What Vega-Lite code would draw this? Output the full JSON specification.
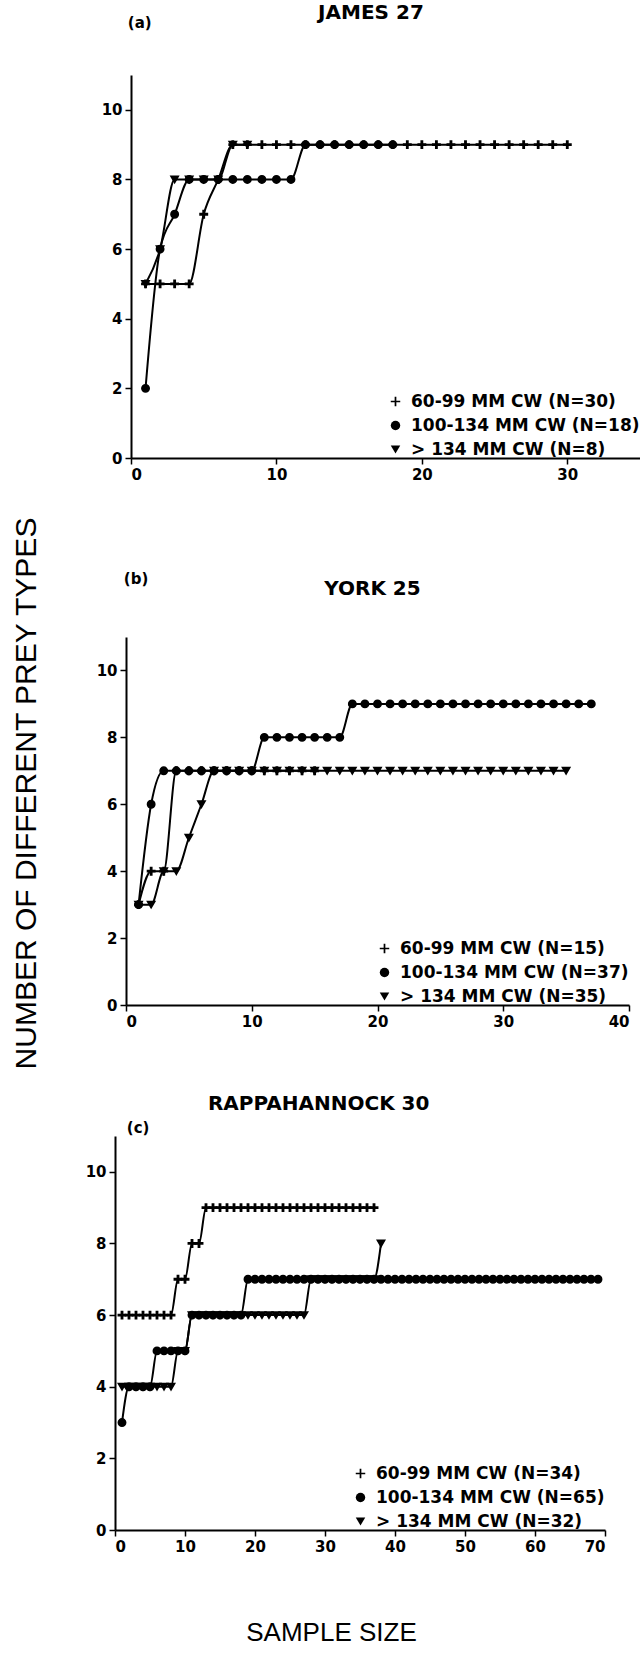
{
  "$schema": "https://vega.github.io/schema/vega-lite/v6.json",
  "background": "white",
  "padding": {"left": 10, "top": 2, "right": 0, "bottom": 0},
  "bounds": "flush",
  "spacing": 179,
  "config": {
    "view": {"stroke": null},
    "font": "DejaVu Sans",
    "axis": {
      "domainColor": "black", "domainWidth": 2,
      "tickColor": "black", "tickWidth": 1.5, "tickSize": 6,
      "labelFont": "DejaVu Sans", "labelFontWeight": "bold", "labelFontSize": 15,
      "labelColor": "black", "labelPadding": 3, "grid": false
    },
    "legend": {
      "orient": "bottom-right", "offset": 0, "padding": 0,
      "labelFont": "DejaVu Sans", "labelFontWeight": "bold", "labelFontSize": 17,
      "labelColor": "black", "labelLimit": 400, "labelOffset": 7,
      "rowPadding": 6, "symbolSize": 90, "symbolStrokeWidth": 1.5,
      "symbolStrokeColor": "black", "symbolFillColor": "black"
    },
    "text": {"font": "DejaVu Sans", "fontWeight": "bold", "color": "black", "align": "center", "baseline": "middle"}
  },
  "resolve": {
    "scale": {"x": "independent", "y": "independent", "shape": "independent"},
    "legend": {"shape": "independent"}
  },
  "datasets": {
    "james": [
      {"group": "60-99 MM CW (N=30)", "n": 1, "types": 5},
      {"group": "60-99 MM CW (N=30)", "n": 2, "types": 5},
      {"group": "60-99 MM CW (N=30)", "n": 3, "types": 5},
      {"group": "60-99 MM CW (N=30)", "n": 4, "types": 5},
      {"group": "60-99 MM CW (N=30)", "n": 5, "types": 7},
      {"group": "60-99 MM CW (N=30)", "n": 6, "types": 8},
      {"group": "60-99 MM CW (N=30)", "n": 7, "types": 9},
      {"group": "60-99 MM CW (N=30)", "n": 8, "types": 9},
      {"group": "60-99 MM CW (N=30)", "n": 9, "types": 9},
      {"group": "60-99 MM CW (N=30)", "n": 10, "types": 9},
      {"group": "60-99 MM CW (N=30)", "n": 11, "types": 9},
      {"group": "60-99 MM CW (N=30)", "n": 12, "types": 9},
      {"group": "60-99 MM CW (N=30)", "n": 13, "types": 9},
      {"group": "60-99 MM CW (N=30)", "n": 14, "types": 9},
      {"group": "60-99 MM CW (N=30)", "n": 15, "types": 9},
      {"group": "60-99 MM CW (N=30)", "n": 16, "types": 9},
      {"group": "60-99 MM CW (N=30)", "n": 17, "types": 9},
      {"group": "60-99 MM CW (N=30)", "n": 18, "types": 9},
      {"group": "60-99 MM CW (N=30)", "n": 19, "types": 9},
      {"group": "60-99 MM CW (N=30)", "n": 20, "types": 9},
      {"group": "60-99 MM CW (N=30)", "n": 21, "types": 9},
      {"group": "60-99 MM CW (N=30)", "n": 22, "types": 9},
      {"group": "60-99 MM CW (N=30)", "n": 23, "types": 9},
      {"group": "60-99 MM CW (N=30)", "n": 24, "types": 9},
      {"group": "60-99 MM CW (N=30)", "n": 25, "types": 9},
      {"group": "60-99 MM CW (N=30)", "n": 26, "types": 9},
      {"group": "60-99 MM CW (N=30)", "n": 27, "types": 9},
      {"group": "60-99 MM CW (N=30)", "n": 28, "types": 9},
      {"group": "60-99 MM CW (N=30)", "n": 29, "types": 9},
      {"group": "60-99 MM CW (N=30)", "n": 30, "types": 9},
      {"group": "100-134 MM CW (N=18)", "n": 1, "types": 2},
      {"group": "100-134 MM CW (N=18)", "n": 2, "types": 6},
      {"group": "100-134 MM CW (N=18)", "n": 3, "types": 7},
      {"group": "100-134 MM CW (N=18)", "n": 4, "types": 8},
      {"group": "100-134 MM CW (N=18)", "n": 5, "types": 8},
      {"group": "100-134 MM CW (N=18)", "n": 6, "types": 8},
      {"group": "100-134 MM CW (N=18)", "n": 7, "types": 8},
      {"group": "100-134 MM CW (N=18)", "n": 8, "types": 8},
      {"group": "100-134 MM CW (N=18)", "n": 9, "types": 8},
      {"group": "100-134 MM CW (N=18)", "n": 10, "types": 8},
      {"group": "100-134 MM CW (N=18)", "n": 11, "types": 8},
      {"group": "100-134 MM CW (N=18)", "n": 12, "types": 9},
      {"group": "100-134 MM CW (N=18)", "n": 13, "types": 9},
      {"group": "100-134 MM CW (N=18)", "n": 14, "types": 9},
      {"group": "100-134 MM CW (N=18)", "n": 15, "types": 9},
      {"group": "100-134 MM CW (N=18)", "n": 16, "types": 9},
      {"group": "100-134 MM CW (N=18)", "n": 17, "types": 9},
      {"group": "100-134 MM CW (N=18)", "n": 18, "types": 9},
      {"group": "> 134 MM CW (N=8)", "n": 1, "types": 5},
      {"group": "> 134 MM CW (N=8)", "n": 2, "types": 6},
      {"group": "> 134 MM CW (N=8)", "n": 3, "types": 8},
      {"group": "> 134 MM CW (N=8)", "n": 4, "types": 8},
      {"group": "> 134 MM CW (N=8)", "n": 5, "types": 8},
      {"group": "> 134 MM CW (N=8)", "n": 6, "types": 8},
      {"group": "> 134 MM CW (N=8)", "n": 7, "types": 9},
      {"group": "> 134 MM CW (N=8)", "n": 8, "types": 9}
    ],
    "york": [
      {"group": "60-99 MM CW (N=15)", "n": 1, "types": 3},
      {"group": "60-99 MM CW (N=15)", "n": 2, "types": 4},
      {"group": "60-99 MM CW (N=15)", "n": 3, "types": 4},
      {"group": "60-99 MM CW (N=15)", "n": 4, "types": 7},
      {"group": "60-99 MM CW (N=15)", "n": 5, "types": 7},
      {"group": "60-99 MM CW (N=15)", "n": 6, "types": 7},
      {"group": "60-99 MM CW (N=15)", "n": 7, "types": 7},
      {"group": "60-99 MM CW (N=15)", "n": 8, "types": 7},
      {"group": "60-99 MM CW (N=15)", "n": 9, "types": 7},
      {"group": "60-99 MM CW (N=15)", "n": 10, "types": 7},
      {"group": "60-99 MM CW (N=15)", "n": 11, "types": 7},
      {"group": "60-99 MM CW (N=15)", "n": 12, "types": 7},
      {"group": "60-99 MM CW (N=15)", "n": 13, "types": 7},
      {"group": "60-99 MM CW (N=15)", "n": 14, "types": 7},
      {"group": "60-99 MM CW (N=15)", "n": 15, "types": 7},
      {"group": "100-134 MM CW (N=37)", "n": 1, "types": 3},
      {"group": "100-134 MM CW (N=37)", "n": 2, "types": 6},
      {"group": "100-134 MM CW (N=37)", "n": 3, "types": 7},
      {"group": "100-134 MM CW (N=37)", "n": 4, "types": 7},
      {"group": "100-134 MM CW (N=37)", "n": 5, "types": 7},
      {"group": "100-134 MM CW (N=37)", "n": 6, "types": 7},
      {"group": "100-134 MM CW (N=37)", "n": 7, "types": 7},
      {"group": "100-134 MM CW (N=37)", "n": 8, "types": 7},
      {"group": "100-134 MM CW (N=37)", "n": 9, "types": 7},
      {"group": "100-134 MM CW (N=37)", "n": 10, "types": 7},
      {"group": "100-134 MM CW (N=37)", "n": 11, "types": 8},
      {"group": "100-134 MM CW (N=37)", "n": 12, "types": 8},
      {"group": "100-134 MM CW (N=37)", "n": 13, "types": 8},
      {"group": "100-134 MM CW (N=37)", "n": 14, "types": 8},
      {"group": "100-134 MM CW (N=37)", "n": 15, "types": 8},
      {"group": "100-134 MM CW (N=37)", "n": 16, "types": 8},
      {"group": "100-134 MM CW (N=37)", "n": 17, "types": 8},
      {"group": "100-134 MM CW (N=37)", "n": 18, "types": 9},
      {"group": "100-134 MM CW (N=37)", "n": 19, "types": 9},
      {"group": "100-134 MM CW (N=37)", "n": 20, "types": 9},
      {"group": "100-134 MM CW (N=37)", "n": 21, "types": 9},
      {"group": "100-134 MM CW (N=37)", "n": 22, "types": 9},
      {"group": "100-134 MM CW (N=37)", "n": 23, "types": 9},
      {"group": "100-134 MM CW (N=37)", "n": 24, "types": 9},
      {"group": "100-134 MM CW (N=37)", "n": 25, "types": 9},
      {"group": "100-134 MM CW (N=37)", "n": 26, "types": 9},
      {"group": "100-134 MM CW (N=37)", "n": 27, "types": 9},
      {"group": "100-134 MM CW (N=37)", "n": 28, "types": 9},
      {"group": "100-134 MM CW (N=37)", "n": 29, "types": 9},
      {"group": "100-134 MM CW (N=37)", "n": 30, "types": 9},
      {"group": "100-134 MM CW (N=37)", "n": 31, "types": 9},
      {"group": "100-134 MM CW (N=37)", "n": 32, "types": 9},
      {"group": "100-134 MM CW (N=37)", "n": 33, "types": 9},
      {"group": "100-134 MM CW (N=37)", "n": 34, "types": 9},
      {"group": "100-134 MM CW (N=37)", "n": 35, "types": 9},
      {"group": "100-134 MM CW (N=37)", "n": 36, "types": 9},
      {"group": "100-134 MM CW (N=37)", "n": 37, "types": 9},
      {"group": "> 134 MM CW (N=35)", "n": 1, "types": 3},
      {"group": "> 134 MM CW (N=35)", "n": 2, "types": 3},
      {"group": "> 134 MM CW (N=35)", "n": 3, "types": 4},
      {"group": "> 134 MM CW (N=35)", "n": 4, "types": 4},
      {"group": "> 134 MM CW (N=35)", "n": 5, "types": 5},
      {"group": "> 134 MM CW (N=35)", "n": 6, "types": 6},
      {"group": "> 134 MM CW (N=35)", "n": 7, "types": 7},
      {"group": "> 134 MM CW (N=35)", "n": 8, "types": 7},
      {"group": "> 134 MM CW (N=35)", "n": 9, "types": 7},
      {"group": "> 134 MM CW (N=35)", "n": 10, "types": 7},
      {"group": "> 134 MM CW (N=35)", "n": 11, "types": 7},
      {"group": "> 134 MM CW (N=35)", "n": 12, "types": 7},
      {"group": "> 134 MM CW (N=35)", "n": 13, "types": 7},
      {"group": "> 134 MM CW (N=35)", "n": 14, "types": 7},
      {"group": "> 134 MM CW (N=35)", "n": 15, "types": 7},
      {"group": "> 134 MM CW (N=35)", "n": 16, "types": 7},
      {"group": "> 134 MM CW (N=35)", "n": 17, "types": 7},
      {"group": "> 134 MM CW (N=35)", "n": 18, "types": 7},
      {"group": "> 134 MM CW (N=35)", "n": 19, "types": 7},
      {"group": "> 134 MM CW (N=35)", "n": 20, "types": 7},
      {"group": "> 134 MM CW (N=35)", "n": 21, "types": 7},
      {"group": "> 134 MM CW (N=35)", "n": 22, "types": 7},
      {"group": "> 134 MM CW (N=35)", "n": 23, "types": 7},
      {"group": "> 134 MM CW (N=35)", "n": 24, "types": 7},
      {"group": "> 134 MM CW (N=35)", "n": 25, "types": 7},
      {"group": "> 134 MM CW (N=35)", "n": 26, "types": 7},
      {"group": "> 134 MM CW (N=35)", "n": 27, "types": 7},
      {"group": "> 134 MM CW (N=35)", "n": 28, "types": 7},
      {"group": "> 134 MM CW (N=35)", "n": 29, "types": 7},
      {"group": "> 134 MM CW (N=35)", "n": 30, "types": 7},
      {"group": "> 134 MM CW (N=35)", "n": 31, "types": 7},
      {"group": "> 134 MM CW (N=35)", "n": 32, "types": 7},
      {"group": "> 134 MM CW (N=35)", "n": 33, "types": 7},
      {"group": "> 134 MM CW (N=35)", "n": 34, "types": 7},
      {"group": "> 134 MM CW (N=35)", "n": 35, "types": 7}
    ],
    "rappahannock": [
      {"group": "60-99 MM CW (N=34)", "n": 1, "types": 6},
      {"group": "60-99 MM CW (N=34)", "n": 2, "types": 6},
      {"group": "60-99 MM CW (N=34)", "n": 3, "types": 6},
      {"group": "60-99 MM CW (N=34)", "n": 4, "types": 6},
      {"group": "60-99 MM CW (N=34)", "n": 5, "types": 6},
      {"group": "60-99 MM CW (N=34)", "n": 6, "types": 6},
      {"group": "60-99 MM CW (N=34)", "n": 7, "types": 6},
      {"group": "60-99 MM CW (N=34)", "n": 8, "types": 6},
      {"group": "60-99 MM CW (N=34)", "n": 9, "types": 7},
      {"group": "60-99 MM CW (N=34)", "n": 10, "types": 7},
      {"group": "60-99 MM CW (N=34)", "n": 11, "types": 8},
      {"group": "60-99 MM CW (N=34)", "n": 12, "types": 8},
      {"group": "60-99 MM CW (N=34)", "n": 13, "types": 9},
      {"group": "60-99 MM CW (N=34)", "n": 14, "types": 9},
      {"group": "60-99 MM CW (N=34)", "n": 15, "types": 9},
      {"group": "60-99 MM CW (N=34)", "n": 16, "types": 9},
      {"group": "60-99 MM CW (N=34)", "n": 17, "types": 9},
      {"group": "60-99 MM CW (N=34)", "n": 18, "types": 9},
      {"group": "60-99 MM CW (N=34)", "n": 19, "types": 9},
      {"group": "60-99 MM CW (N=34)", "n": 20, "types": 9},
      {"group": "60-99 MM CW (N=34)", "n": 21, "types": 9},
      {"group": "60-99 MM CW (N=34)", "n": 22, "types": 9},
      {"group": "60-99 MM CW (N=34)", "n": 23, "types": 9},
      {"group": "60-99 MM CW (N=34)", "n": 24, "types": 9},
      {"group": "60-99 MM CW (N=34)", "n": 25, "types": 9},
      {"group": "60-99 MM CW (N=34)", "n": 26, "types": 9},
      {"group": "60-99 MM CW (N=34)", "n": 27, "types": 9},
      {"group": "60-99 MM CW (N=34)", "n": 28, "types": 9},
      {"group": "60-99 MM CW (N=34)", "n": 29, "types": 9},
      {"group": "60-99 MM CW (N=34)", "n": 30, "types": 9},
      {"group": "60-99 MM CW (N=34)", "n": 31, "types": 9},
      {"group": "60-99 MM CW (N=34)", "n": 32, "types": 9},
      {"group": "60-99 MM CW (N=34)", "n": 33, "types": 9},
      {"group": "60-99 MM CW (N=34)", "n": 34, "types": 9},
      {"group": "60-99 MM CW (N=34)", "n": 35, "types": 9},
      {"group": "60-99 MM CW (N=34)", "n": 36, "types": 9},
      {"group": "60-99 MM CW (N=34)", "n": 37, "types": 9},
      {"group": "100-134 MM CW (N=65)", "n": 1, "types": 3},
      {"group": "100-134 MM CW (N=65)", "n": 2, "types": 4},
      {"group": "100-134 MM CW (N=65)", "n": 3, "types": 4},
      {"group": "100-134 MM CW (N=65)", "n": 4, "types": 4},
      {"group": "100-134 MM CW (N=65)", "n": 5, "types": 4},
      {"group": "100-134 MM CW (N=65)", "n": 6, "types": 5},
      {"group": "100-134 MM CW (N=65)", "n": 7, "types": 5},
      {"group": "100-134 MM CW (N=65)", "n": 8, "types": 5},
      {"group": "100-134 MM CW (N=65)", "n": 9, "types": 5},
      {"group": "100-134 MM CW (N=65)", "n": 10, "types": 5},
      {"group": "100-134 MM CW (N=65)", "n": 11, "types": 6},
      {"group": "100-134 MM CW (N=65)", "n": 12, "types": 6},
      {"group": "100-134 MM CW (N=65)", "n": 13, "types": 6},
      {"group": "100-134 MM CW (N=65)", "n": 14, "types": 6},
      {"group": "100-134 MM CW (N=65)", "n": 15, "types": 6},
      {"group": "100-134 MM CW (N=65)", "n": 16, "types": 6},
      {"group": "100-134 MM CW (N=65)", "n": 17, "types": 6},
      {"group": "100-134 MM CW (N=65)", "n": 18, "types": 6},
      {"group": "100-134 MM CW (N=65)", "n": 19, "types": 7},
      {"group": "100-134 MM CW (N=65)", "n": 20, "types": 7},
      {"group": "100-134 MM CW (N=65)", "n": 21, "types": 7},
      {"group": "100-134 MM CW (N=65)", "n": 22, "types": 7},
      {"group": "100-134 MM CW (N=65)", "n": 23, "types": 7},
      {"group": "100-134 MM CW (N=65)", "n": 24, "types": 7},
      {"group": "100-134 MM CW (N=65)", "n": 25, "types": 7},
      {"group": "100-134 MM CW (N=65)", "n": 26, "types": 7},
      {"group": "100-134 MM CW (N=65)", "n": 27, "types": 7},
      {"group": "100-134 MM CW (N=65)", "n": 28, "types": 7},
      {"group": "100-134 MM CW (N=65)", "n": 29, "types": 7},
      {"group": "100-134 MM CW (N=65)", "n": 30, "types": 7},
      {"group": "100-134 MM CW (N=65)", "n": 31, "types": 7},
      {"group": "100-134 MM CW (N=65)", "n": 32, "types": 7},
      {"group": "100-134 MM CW (N=65)", "n": 33, "types": 7},
      {"group": "100-134 MM CW (N=65)", "n": 34, "types": 7},
      {"group": "100-134 MM CW (N=65)", "n": 35, "types": 7},
      {"group": "100-134 MM CW (N=65)", "n": 36, "types": 7},
      {"group": "100-134 MM CW (N=65)", "n": 37, "types": 7},
      {"group": "100-134 MM CW (N=65)", "n": 38, "types": 7},
      {"group": "100-134 MM CW (N=65)", "n": 39, "types": 7},
      {"group": "100-134 MM CW (N=65)", "n": 40, "types": 7},
      {"group": "100-134 MM CW (N=65)", "n": 41, "types": 7},
      {"group": "100-134 MM CW (N=65)", "n": 42, "types": 7},
      {"group": "100-134 MM CW (N=65)", "n": 43, "types": 7},
      {"group": "100-134 MM CW (N=65)", "n": 44, "types": 7},
      {"group": "100-134 MM CW (N=65)", "n": 45, "types": 7},
      {"group": "100-134 MM CW (N=65)", "n": 46, "types": 7},
      {"group": "100-134 MM CW (N=65)", "n": 47, "types": 7},
      {"group": "100-134 MM CW (N=65)", "n": 48, "types": 7},
      {"group": "100-134 MM CW (N=65)", "n": 49, "types": 7},
      {"group": "100-134 MM CW (N=65)", "n": 50, "types": 7},
      {"group": "100-134 MM CW (N=65)", "n": 51, "types": 7},
      {"group": "100-134 MM CW (N=65)", "n": 52, "types": 7},
      {"group": "100-134 MM CW (N=65)", "n": 53, "types": 7},
      {"group": "100-134 MM CW (N=65)", "n": 54, "types": 7},
      {"group": "100-134 MM CW (N=65)", "n": 55, "types": 7},
      {"group": "100-134 MM CW (N=65)", "n": 56, "types": 7},
      {"group": "100-134 MM CW (N=65)", "n": 57, "types": 7},
      {"group": "100-134 MM CW (N=65)", "n": 58, "types": 7},
      {"group": "100-134 MM CW (N=65)", "n": 59, "types": 7},
      {"group": "100-134 MM CW (N=65)", "n": 60, "types": 7},
      {"group": "100-134 MM CW (N=65)", "n": 61, "types": 7},
      {"group": "100-134 MM CW (N=65)", "n": 62, "types": 7},
      {"group": "100-134 MM CW (N=65)", "n": 63, "types": 7},
      {"group": "100-134 MM CW (N=65)", "n": 64, "types": 7},
      {"group": "100-134 MM CW (N=65)", "n": 65, "types": 7},
      {"group": "100-134 MM CW (N=65)", "n": 66, "types": 7},
      {"group": "100-134 MM CW (N=65)", "n": 67, "types": 7},
      {"group": "100-134 MM CW (N=65)", "n": 68, "types": 7},
      {"group": "100-134 MM CW (N=65)", "n": 69, "types": 7},
      {"group": "> 134 MM CW (N=32)", "n": 1, "types": 4},
      {"group": "> 134 MM CW (N=32)", "n": 2, "types": 4},
      {"group": "> 134 MM CW (N=32)", "n": 3, "types": 4},
      {"group": "> 134 MM CW (N=32)", "n": 4, "types": 4},
      {"group": "> 134 MM CW (N=32)", "n": 5, "types": 4},
      {"group": "> 134 MM CW (N=32)", "n": 6, "types": 4},
      {"group": "> 134 MM CW (N=32)", "n": 7, "types": 4},
      {"group": "> 134 MM CW (N=32)", "n": 8, "types": 4},
      {"group": "> 134 MM CW (N=32)", "n": 9, "types": 5},
      {"group": "> 134 MM CW (N=32)", "n": 10, "types": 5},
      {"group": "> 134 MM CW (N=32)", "n": 11, "types": 6},
      {"group": "> 134 MM CW (N=32)", "n": 12, "types": 6},
      {"group": "> 134 MM CW (N=32)", "n": 13, "types": 6},
      {"group": "> 134 MM CW (N=32)", "n": 14, "types": 6},
      {"group": "> 134 MM CW (N=32)", "n": 15, "types": 6},
      {"group": "> 134 MM CW (N=32)", "n": 16, "types": 6},
      {"group": "> 134 MM CW (N=32)", "n": 17, "types": 6},
      {"group": "> 134 MM CW (N=32)", "n": 18, "types": 6},
      {"group": "> 134 MM CW (N=32)", "n": 19, "types": 6},
      {"group": "> 134 MM CW (N=32)", "n": 20, "types": 6},
      {"group": "> 134 MM CW (N=32)", "n": 21, "types": 6},
      {"group": "> 134 MM CW (N=32)", "n": 22, "types": 6},
      {"group": "> 134 MM CW (N=32)", "n": 23, "types": 6},
      {"group": "> 134 MM CW (N=32)", "n": 24, "types": 6},
      {"group": "> 134 MM CW (N=32)", "n": 25, "types": 6},
      {"group": "> 134 MM CW (N=32)", "n": 26, "types": 6},
      {"group": "> 134 MM CW (N=32)", "n": 27, "types": 6},
      {"group": "> 134 MM CW (N=32)", "n": 28, "types": 7},
      {"group": "> 134 MM CW (N=32)", "n": 29, "types": 7},
      {"group": "> 134 MM CW (N=32)", "n": 30, "types": 7},
      {"group": "> 134 MM CW (N=32)", "n": 31, "types": 7},
      {"group": "> 134 MM CW (N=32)", "n": 32, "types": 7},
      {"group": "> 134 MM CW (N=32)", "n": 33, "types": 7},
      {"group": "> 134 MM CW (N=32)", "n": 34, "types": 7},
      {"group": "> 134 MM CW (N=32)", "n": 35, "types": 7},
      {"group": "> 134 MM CW (N=32)", "n": 36, "types": 7},
      {"group": "> 134 MM CW (N=32)", "n": 37, "types": 7},
      {"group": "> 134 MM CW (N=32)", "n": 38, "types": 8}
    ]
  },
  "vconcat": [
    {
      "width": 525,
      "height": 383,
      "layer": [
        {
          "data": {"name": "james"},
          "mark": {"type": "line", "interpolate": "monotone", "color": "black", "strokeWidth": 2},
          "encoding": {
            "x": {"field": "n", "type": "quantitative", "scale": {"domain": [0, 35], "range": [16, 525]}, "axis": {"values": [0, 10, 20, 30], "title": null}},
            "y": {"field": "types", "type": "quantitative", "scale": {"domain": [0, 11]}, "axis": {"values": [0, 2, 4, 6, 8, 10], "title": null, "offset": -16}},
            "detail": {"field": "group"}
          }
        },
        {
          "data": {"name": "james"},
          "mark": {"type": "point", "filled": true, "color": "black", "stroke": "black", "strokeWidth": 1.5, "size": 55, "opacity": 1},
          "encoding": {
            "x": {"field": "n", "type": "quantitative"},
            "y": {"field": "types", "type": "quantitative"},
            "shape": {
              "field": "group", "type": "nominal",
              "scale": {"domain": ["60-99 MM CW (N=30)", "100-134 MM CW (N=18)", "> 134 MM CW (N=8)"], "range": ["M-1,-0.18L-0.18,-0.18L-0.18,-1L0.18,-1L0.18,-0.18L1,-0.18L1,0.18L0.18,0.18L0.18,1L-0.18,1L-0.18,0.18L-1,0.18Z", "circle", "triangle-down"]},
              "legend": {"title": null, "encode": {"symbols": {"update": {"stroke": {"value": "black"}, "strokeWidth": {"value": 1.5}, "fill": {"value": "black"}}}}}
            }
          }
        },
        {
          "data": {"values": [{"label": "JAMES 27", "n": 16.5, "types": 12.79, "size": 20}, {"label": "(a)", "n": 0.6, "types": 12.48, "size": 15}]},
          "mark": {"type": "text"},
          "encoding": {
            "x": {"field": "n", "type": "quantitative"},
            "y": {"field": "types", "type": "quantitative"},
            "text": {"field": "label"},
            "size": {"field": "size", "type": "quantitative", "scale": null}
          }
        }
      ]
    },
    {
      "bounds": "flush",
      "spacing": 131,
      "resolve": {
        "scale": {"x": "independent", "y": "independent", "shape": "independent"},
        "legend": {"shape": "independent"}
      },
      "vconcat": [
        {
          "width": 514,
          "height": 368,
          "layer": [
            {
              "data": {"name": "york"},
              "mark": {"type": "line", "interpolate": "monotone", "color": "black", "strokeWidth": 2},
              "encoding": {
                "x": {"field": "n", "type": "quantitative", "scale": {"domain": [0, 40], "range": [11, 514]}, "axis": {"values": [0, 10, 20, 30, 40], "title": null}},
                "y": {
                  "field": "types", "type": "quantitative", "scale": {"domain": [0, 11]},
                  "axis": {
                    "values": [0, 2, 4, 6, 8, 10],
                    "offset": -11,
                    "title": "NUMBER OF DIFFERENT PREY TYPES",
                    "titleFont": "Liberation Sans", "titleFontSize": 30, "titleFontWeight": "normal", "titleColor": "black",
                    "titleAngle": 270, "titleAlign": "center", "titleBaseline": "middle",
                    "titleX": -100, "titleY": 156
                  }
                },
                "detail": {"field": "group"}
              }
            },
            {
              "data": {"name": "york"},
              "mark": {"type": "point", "filled": true, "color": "black", "stroke": "black", "strokeWidth": 1.5, "size": 55, "opacity": 1},
              "encoding": {
                "x": {"field": "n", "type": "quantitative"},
                "y": {"field": "types", "type": "quantitative"},
                "shape": {
                  "field": "group", "type": "nominal",
                  "scale": {"domain": ["60-99 MM CW (N=15)", "100-134 MM CW (N=37)", "> 134 MM CW (N=35)"], "range": ["M-1,-0.18L-0.18,-0.18L-0.18,-1L0.18,-1L0.18,-0.18L1,-0.18L1,0.18L0.18,0.18L0.18,1L-0.18,1L-0.18,0.18L-1,0.18Z", "circle", "triangle-down"]},
                  "legend": {"title": null, "encode": {"symbols": {"update": {"stroke": {"value": "black"}, "strokeWidth": {"value": 1.5}, "fill": {"value": "black"}}}}}
                }
              }
            },
            {
              "data": {"values": [{"label": "YORK 25", "n": 19.6, "types": 12.42, "size": 20}, {"label": "(b)", "n": 0.8, "types": 12.73, "size": 15}]},
              "mark": {"type": "text"},
              "encoding": {
                "x": {"field": "n", "type": "quantitative"},
                "y": {"field": "types", "type": "quantitative"},
                "text": {"field": "label"},
                "size": {"field": "size", "type": "quantitative", "scale": null}
              }
            }
          ]
        },
        {
          "width": 490,
          "height": 394,
          "layer": [
            {
              "data": {"name": "rappahannock"},
              "mark": {"type": "line", "interpolate": "monotone", "color": "black", "strokeWidth": 2},
              "encoding": {
                "x": {
                  "field": "n", "type": "quantitative", "scale": {"domain": [0, 70]},
                  "axis": {
                    "values": [0, 10, 20, 30, 40, 50, 60, 70],
                    "title": "SAMPLE SIZE",
                    "titleFont": "Liberation Sans", "titleFontSize": 26, "titleFontWeight": "normal", "titleColor": "black",
                    "titleAlign": "center", "titleBaseline": "middle",
                    "titleX": 216, "titleY": 102
                  }
                },
                "y": {"field": "types", "type": "quantitative", "scale": {"domain": [0, 11]}, "axis": {"values": [0, 2, 4, 6, 8, 10], "title": null}},
                "detail": {"field": "group"}
              }
            },
            {
              "data": {"name": "rappahannock"},
              "mark": {"type": "point", "filled": true, "color": "black", "stroke": "black", "strokeWidth": 1.5, "size": 55, "opacity": 1},
              "encoding": {
                "x": {"field": "n", "type": "quantitative"},
                "y": {"field": "types", "type": "quantitative"},
                "shape": {
                  "field": "group", "type": "nominal",
                  "scale": {"domain": ["60-99 MM CW (N=34)", "100-134 MM CW (N=65)", "> 134 MM CW (N=32)"], "range": ["M-1,-0.18L-0.18,-0.18L-0.18,-1L0.18,-1L0.18,-0.18L1,-0.18L1,0.18L0.18,0.18L0.18,1L-0.18,1L-0.18,0.18L-1,0.18Z", "circle", "triangle-down"]},
                  "legend": {"title": null, "encode": {"symbols": {"update": {"stroke": {"value": "black"}, "strokeWidth": {"value": 1.5}, "fill": {"value": "black"}}}}}
                }
              }
            },
            {
              "data": {"values": [{"label": "RAPPAHANNOCK 30", "n": 29.1, "types": 11.9, "size": 20}, {"label": "(c)", "n": 3.3, "types": 11.23, "size": 15}]},
              "mark": {"type": "text"},
              "encoding": {
                "x": {"field": "n", "type": "quantitative"},
                "y": {"field": "types", "type": "quantitative"},
                "text": {"field": "label"},
                "size": {"field": "size", "type": "quantitative", "scale": null}
              }
            }
          ]
        }
      ]
    }
  ]
}
